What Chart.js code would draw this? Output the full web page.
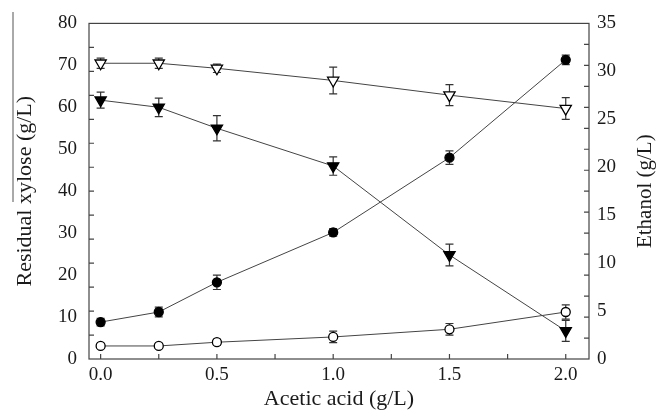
<!DOCTYPE html>
<html>
<head>
<meta charset="utf-8">
<script src="https://cdn.jsdelivr.net/npm/chart.js@4.4.1/dist/chart.umd.min.js"></script>
<style>
html,body{margin:0;padding:0;background:#fff;}
#wrap{width:656px;height:412px;position:relative;}
</style>
</head>
<body>
<div id="wrap"><canvas id="c" width="656" height="412"></canvas></div>
<script>
// ---- data ----
const aceticAcid = [0, 0.25, 0.5, 1.0, 1.5, 2.0];
// residual xylose (left axis, g/L)
const xyloseOpen = [70.5, 70.5, 69.3, 66.4, 62.9, 59.7];
const xyloseOpenErr = [1.2, 1.2, 1.0, 3.2, 2.5, 2.6];
const xyloseFilled = [61.7, 60.0, 55.0, 46.0, 24.8, 6.7];
const xyloseFilledErr = [1.9, 2.2, 3.0, 2.2, 2.6, 2.5];
// ethanol (right axis, g/L)
const ethanolFilled = [3.85, 4.9, 8.0, 13.2, 21.0, 31.2];
const ethanolFilledErr = [0.4, 0.5, 0.75, 0.4, 0.7, 0.5];
const ethanolOpen = [1.36, 1.36, 1.75, 2.3, 3.1, 4.9];
const ethanolOpenErr = [0.2, 0.2, 0.3, 0.6, 0.6, 0.75];
// tick labels
const xTickLabels = ['0.0', '0.5', '1.0', '1.5', '2.0'];
const leftTickLabels = ['0', '10', '20', '30', '40', '50', '60', '70', '80'];
const rightTickLabels = ['0', '5', '10', '15', '20', '25', '30', '35'];
// minor tick mark values (mirrored from the original figure)
const xTickMarks = [0, 0.25, 0.5, 0.75, 1.0, 1.25, 1.5, 1.75, 2.0];
const leftSpineMarks = [2.5, 5, 7.5, 10, 12.5, 15, 17.5, 20, 22.5, 25, 27.5, 30, 32.5]; // in right-axis units
const rightSpineMarks = [5, 10, 15, 20, 25, 30, 35, 40, 45, 50, 55, 60, 65, 70, 75]; // in left-axis units

const pts = (xs, ys) => xs.map((x, i) => ({x: x, y: ys[i]}));

const FONT = 'Liberation Serif';
const INK = '#1a1a1a';

const errorBars = {
  id: 'errorBars',
  beforeDatasetsDraw(chart) {
    const ctx = chart.ctx;
    ctx.save();
    ctx.strokeStyle = '#333';
    ctx.lineWidth = 1.2;
    chart.data.datasets.forEach((ds) => {
      const sc = chart.scales[ds.yAxisID];
      const xs = chart.scales.x;
      ds.data.forEach((p, i) => {
        const e = ds.errors[i];
        const px = xs.getPixelForValue(p.x);
        const yt = sc.getPixelForValue(p.y + e);
        const yb = sc.getPixelForValue(p.y - e);
        ctx.beginPath();
        ctx.moveTo(px, yt); ctx.lineTo(px, yb);
        ctx.moveTo(px - 4, yt); ctx.lineTo(px + 4, yt);
        ctx.moveTo(px - 4, yb); ctx.lineTo(px + 4, yb);
        ctx.stroke();
      });
    });
    ctx.restore();
  }
};

const frame = {
  id: 'frame',
  afterDraw(chart) {
    const ctx = chart.ctx;
    const a = chart.chartArea;
    const sx = chart.scales.x, sy = chart.scales.y, sy2 = chart.scales.y2;
    ctx.save();
    ctx.strokeStyle = '#444';
    ctx.lineWidth = 1.2;
    ctx.strokeRect(a.left, a.top, a.right - a.left, a.bottom - a.top);
    ctx.beginPath();
    xTickMarks.forEach(v => {
      const p = sx.getPixelForValue(v);
      ctx.moveTo(p, a.bottom); ctx.lineTo(p, a.bottom - 5);
    });
    leftSpineMarks.forEach(v => {
      const p = sy2.getPixelForValue(v);
      ctx.moveTo(a.left, p); ctx.lineTo(a.left + 5, p);
    });
    rightSpineMarks.forEach(v => {
      const p = sy.getPixelForValue(v);
      ctx.moveTo(a.right, p); ctx.lineTo(a.right - 5, p);
    });
    ctx.stroke();
    // right axis title (reads bottom-to-top)
    ctx.fillStyle = INK;
    ctx.font = '21px "' + FONT + '"';
    ctx.textAlign = 'center';
    ctx.textBaseline = 'middle';
    ctx.translate(645, (a.top + a.bottom) / 2);
    ctx.rotate(-Math.PI / 2);
    ctx.fillText('Ethanol (g/L)', 0, 0);
    ctx.restore();
    // stray rule beside the left title, as in the source figure
    ctx.save();
    ctx.strokeStyle = '#555';
    ctx.lineWidth = 1;
    ctx.beginPath();
    ctx.moveTo(13, 12); ctx.lineTo(13, 202);
    ctx.stroke();
    ctx.restore();
  }
};

const common = {
  showLine: true,
  borderColor: '#444',
  borderWidth: 1,
  pointBorderColor: '#000',
  pointBorderWidth: 1.3,
  tension: 0
};

new Chart(document.getElementById('c'), {
  type: 'scatter',
  data: {
    datasets: [
      Object.assign({}, common, {
        label: 'xylose open', data: pts(aceticAcid, xyloseOpen), errors: xyloseOpenErr, yAxisID: 'y',
        pointStyle: 'triangle', rotation: 180, pointRadius: 6.5, pointBackgroundColor: '#fff'
      }),
      Object.assign({}, common, {
        label: 'xylose filled', data: pts(aceticAcid, xyloseFilled), errors: xyloseFilledErr, yAxisID: 'y',
        pointStyle: 'triangle', rotation: 180, pointRadius: 6.5, pointBackgroundColor: '#000'
      }),
      Object.assign({}, common, {
        label: 'ethanol filled', data: pts(aceticAcid, ethanolFilled), errors: ethanolFilledErr, yAxisID: 'y2',
        pointStyle: 'circle', pointRadius: 4.5, pointBackgroundColor: '#000'
      }),
      Object.assign({}, common, {
        label: 'ethanol open', data: pts(aceticAcid, ethanolOpen), errors: ethanolOpenErr, yAxisID: 'y2',
        pointStyle: 'circle', pointRadius: 4.5, pointBackgroundColor: '#fff'
      })
    ]
  },
  options: {
    responsive: false,
    animation: false,
    devicePixelRatio: 1,
    layout: {padding: {top: 23, left: 0, right: 0, bottom: 0}},
    plugins: {legend: {display: false}, tooltip: {enabled: false}},
    scales: {
      x: {
        type: 'linear', min: -0.05, max: 2.1,
        afterFit: s => { s.height = 53; },
        grid: {display: false, drawTicks: false}, border: {display: false},
        afterBuildTicks: s => { s.ticks = xTickLabels.map(t => ({value: parseFloat(t)})); },
        ticks: {
          padding: 5, color: INK, font: {family: FONT, size: 19},
          callback: (v, i) => xTickLabels[i]
        },
        title: {display: true, text: 'Acetic acid (g/L)', color: INK, font: {family: FONT, size: 22}, padding: {top: 0, bottom: 0}}
      },
      y: {
        type: 'linear', position: 'left', min: 0, max: 80,
        afterFit: s => { s.width = 89; },
        grid: {display: false, drawTicks: false}, border: {display: false},
        afterBuildTicks: s => { s.ticks = leftTickLabels.map(t => ({value: parseFloat(t)})); },
        ticks: {
          padding: 12, color: INK, font: {family: FONT, size: 19},
          callback: (v, i) => leftTickLabels[i]
        },
        title: {display: true, text: 'Residual xylose (g/L)', color: INK, font: {family: FONT, size: 22}, padding: {top: 12, bottom: 0}}
      },
      y2: {
        type: 'linear', position: 'right', min: 0, max: 35,
        afterFit: s => { s.width = 67; },
        grid: {display: false, drawTicks: false}, border: {display: false},
        afterBuildTicks: s => { s.ticks = rightTickLabels.map(t => ({value: parseFloat(t)})); },
        ticks: {
          padding: 8, color: INK, font: {family: FONT, size: 19},
          callback: (v, i) => rightTickLabels[i]
        }
      }
    }
  },
  plugins: [errorBars, frame]
});
</script>
</body>
</html>
